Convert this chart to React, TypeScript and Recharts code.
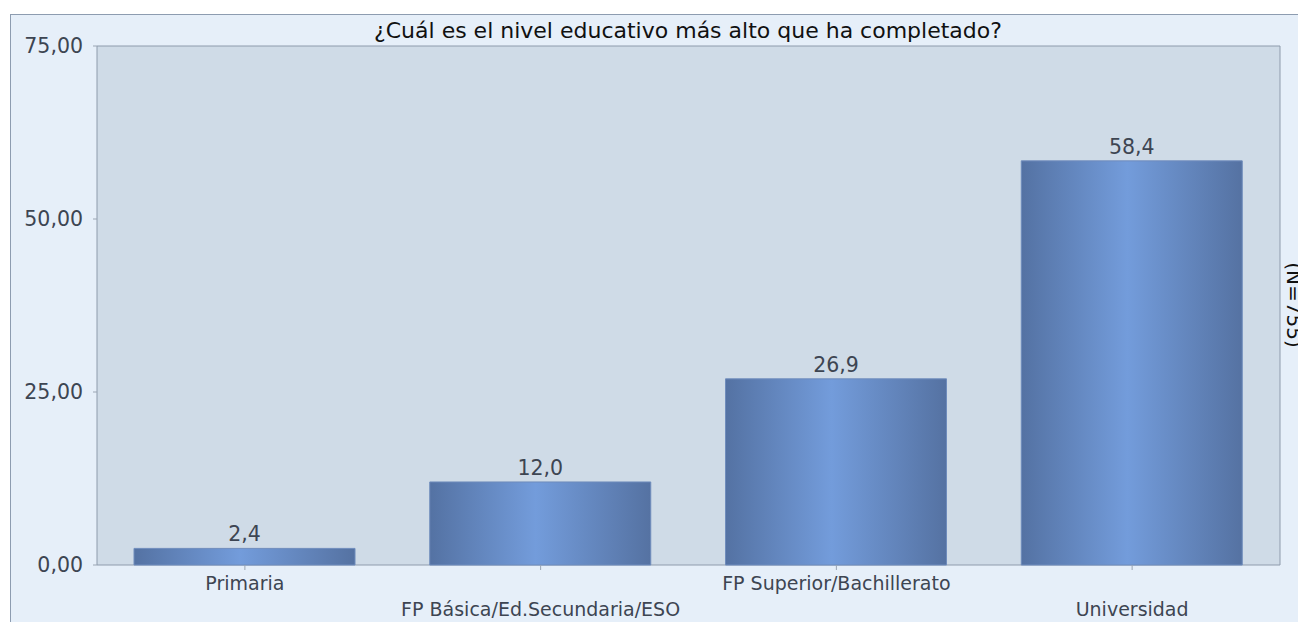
import React from 'react';
import { BarChart, Bar, XAxis, YAxis, CartesianGrid, ReferenceArea, LabelList } from 'recharts';

const categories = ['Primaria', 'FP Básica/Ed.Secundaria/ESO', 'FP Superior/Bachillerato', 'Universidad'];
const percentages = [2.4, 12.0, 26.9, 58.4];
const yTicks = [0, 25, 50, 75];
const chartTitle = '¿Cuál es el nivel educativo más alto que ha completado?';
const sampleNote = '(N=755)';

const data = categories.map((name, i) => ({ name, value: percentages[i] }));

const FONT = '"DejaVu Sans", Verdana, sans-serif';
const TEXT = '#3d4552';
const EDGE = '#8e9bac';

const fmt = (v: number, d: number) => v.toFixed(d).replace('.', ',');

const CategoryTick = (props: any) => {
  const { x, y, payload, index } = props;
  // labels alternate between two rows so they don't collide
  const dy = index % 2 === 0 ? 18 : 44;
  return (
    <text x={x} y={y + dy} textAnchor="middle" fontSize={19} fontFamily={FONT} fill={TEXT}>
      {payload.value}
    </text>
  );
};

const App: React.FC = () => {
  return (
    <div style={{ position: 'absolute', left: 0, top: 0, width: 1298, height: 622, overflow: 'hidden', background: '#fff' }}>
      <div
        style={{
          position: 'absolute',
          left: 10,
          top: 14,
          width: 1400,
          height: 700,
          background: '#e6eff9',
          border: '1px solid #8d9cb0',
        }}
      />
      <div style={{ position: 'absolute', left: 0, top: 0 }}>
        <BarChart width={1298} height={622} data={data} margin={{ top: 46, right: 18, left: 17, bottom: 7 }}>
          <defs>
            <linearGradient id="barFill" x1="0" y1="0" x2="1" y2="0">
              <stop offset="0%" stopColor="#5472a3" />
              <stop offset="48%" stopColor="#739cdb" />
              <stop offset="100%" stopColor="#5572a2" />
            </linearGradient>
          </defs>
          <CartesianGrid horizontal={false} vertical={false} fill="#cfdbe7" />
          <XAxis
            dataKey="name"
            height={50}
            axisLine={false}
            tickLine={{ stroke: '#9aa5b3' }}
            tickSize={5}
            tickMargin={2}
            interval={0}
            tick={<CategoryTick />}
          />
          <YAxis
            width={80}
            domain={[0, 75]}
            ticks={yTicks}
            axisLine={false}
            tickLine={{ stroke: '#9aa5b3' }}
            tickSize={4}
            tickMargin={10}
            tickFormatter={(v: number) => fmt(v, 2)}
            tick={{ fontSize: 20.5, fontFamily: FONT, fill: TEXT }}
          />
          <Bar dataKey="value" barSize={221} fill="url(#barFill)" stroke="#6f8cbc" strokeWidth={1} isAnimationActive={false}>
            <LabelList
              dataKey="value"
              position="top"
              offset={7}
              formatter={(v: any) => fmt(Number(v), 1)}
              style={{ fontSize: 20.5, fontFamily: FONT, fill: TEXT }}
            />
          </Bar>
          <ReferenceArea y1={0} y2={75} fill="none" stroke={EDGE} strokeWidth={1} ifOverflow="visible" />
        </BarChart>
      </div>
      <svg width={1298} height={622} style={{ position: 'absolute', left: 0, top: 0, pointerEvents: 'none' }}>
        <text x={688} y={38} textAnchor="middle" fontSize={22} fontFamily={FONT} fill="#111">
          {chartTitle}
        </text>
        <text x={1287} y={305} textAnchor="middle" fontSize={20} fontFamily={FONT} fill="#111" transform="rotate(90 1287 305)">
          {sampleNote}
        </text>
      </svg>
    </div>
  );
};

export default App;
